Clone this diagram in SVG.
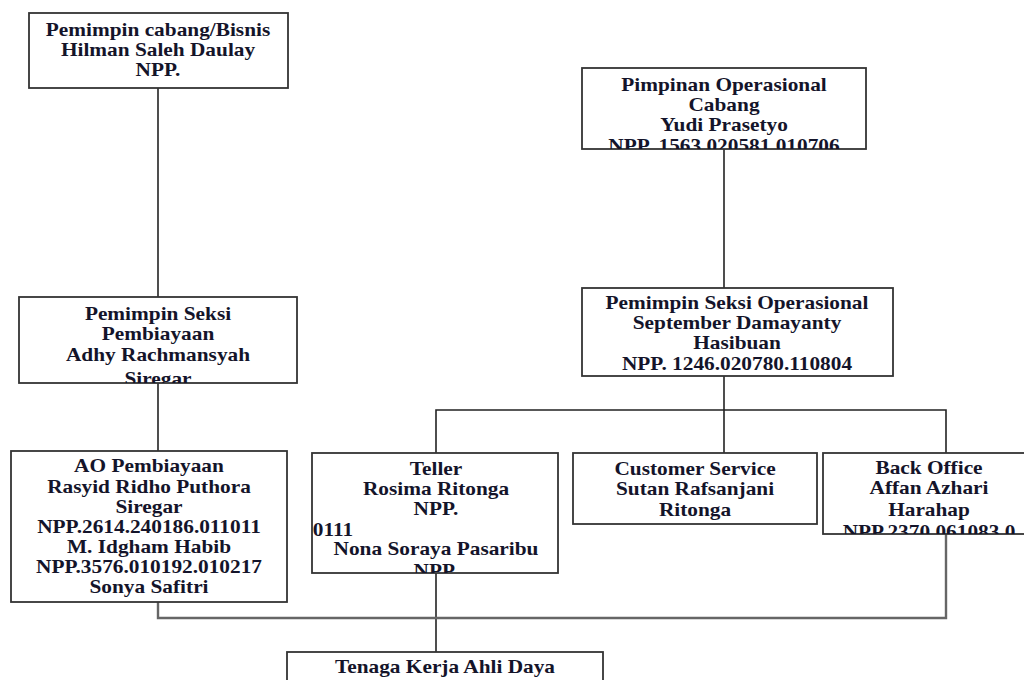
<svg xmlns="http://www.w3.org/2000/svg" width="1024" height="680" viewBox="0 0 1024 680">
<style>
.box{fill:#fff;stroke:#333;stroke-width:1.8}
.t{font-family:"Liberation Serif","Times New Roman",serif;font-weight:bold;font-size:18px;fill:#14142a;text-anchor:middle}
.l{text-anchor:start}
.c{fill:none;stroke:#222;stroke-width:1.6}
.g{fill:none;stroke:#666;stroke-width:2.4}
</style>
<defs>
<clipPath id="c1"><rect x="29" y="13" width="259" height="75"/></clipPath>
<clipPath id="c2"><rect x="582" y="68" width="284" height="81"/></clipPath>
<clipPath id="c3"><rect x="19" y="297" width="278" height="86"/></clipPath>
<clipPath id="c4"><rect x="582" y="288" width="311" height="88"/></clipPath>
<clipPath id="c5"><rect x="11" y="451" width="276" height="151"/></clipPath>
<clipPath id="c6"><rect x="312" y="453" width="246" height="120"/></clipPath>
<clipPath id="c7"><rect x="573" y="453" width="244" height="71"/></clipPath>
<clipPath id="c8"><rect x="823" y="453" width="210" height="81"/></clipPath>
<clipPath id="c9"><rect x="287" y="652" width="316" height="60"/></clipPath>
</defs>
<rect width="1024" height="680" fill="#fff"/>
<g id="connectors">
<path class="c" d="M158,88V297"/>
<path class="c" d="M158,383V451"/>
<path class="c" d="M724,149V288"/>
<path class="c" d="M724,376V453"/>
<path class="c" d="M436,453V410H946V453"/>
<path class="c" d="M436,573V652"/>
<path class="g" d="M158,602V618H946V534"/>
</g>
<g id="pemimpin-cabang">
<rect class="box" x="29" y="13" width="259" height="75"/>
<g clip-path="url(#c1)"><g transform="translate(158,0) scale(1.185,1)">
<text class="t" x="0" y="36">Pemimpin cabang/Bisnis</text>
<text class="t" x="0" y="56">Hilman Saleh Daulay</text>
<text class="t" x="0" y="76">NPP.</text>
</g></g>
</g>
<g id="pimpinan-operasional">
<rect class="box" x="582" y="68" width="284" height="81"/>
<g clip-path="url(#c2)"><g transform="translate(724,0) scale(1.185,1)">
<text class="t" x="0" y="91">Pimpinan Operasional</text>
<text class="t" x="0" y="111">Cabang</text>
<text class="t" x="0" y="131">Yudi Prasetyo</text>
<text class="t" x="0" y="152">NPP. 1563.020581.010706</text>
</g></g>
</g>
<g id="seksi-pembiayaan">
<rect class="box" x="19" y="297" width="278" height="86"/>
<g clip-path="url(#c3)"><g transform="translate(158,0) scale(1.185,1)">
<text class="t" x="0" y="320">Pemimpin Seksi</text>
<text class="t" x="0" y="340">Pembiayaan</text>
<text class="t" x="0" y="361">Adhy Rachmansyah</text>
<text class="t" x="0" y="385">Siregar</text>
</g></g>
</g>
<g id="seksi-operasional">
<rect class="box" x="582" y="288" width="311" height="88"/>
<g clip-path="url(#c4)"><g transform="translate(737,0) scale(1.185,1)">
<text class="t" x="0" y="309">Pemimpin Seksi Operasional</text>
<text class="t" x="0" y="329">September Damayanty</text>
<text class="t" x="0" y="349">Hasibuan</text>
<text class="t" x="0" y="370">NPP. 1246.020780.110804</text>
</g></g>
</g>
<g id="ao-pembiayaan">
<rect class="box" x="11" y="451" width="276" height="151"/>
<g clip-path="url(#c5)"><g transform="translate(149,0) scale(1.185,1)">
<text class="t" x="0" y="472">AO Pembiayaan</text>
<text class="t" x="0" y="493">Rasyid Ridho Puthora</text>
<text class="t" x="0" y="513">Siregar</text>
<text class="t" x="0" y="533">NPP.2614.240186.011011</text>
<text class="t" x="0" y="553">M. Idgham Habib</text>
<text class="t" x="0" y="573">NPP.3576.010192.010217</text>
<text class="t" x="0" y="593">Sonya Safitri</text>
</g></g>
</g>
<g id="teller">
<rect class="box" x="312" y="453" width="246" height="120"/>
<g clip-path="url(#c6)"><g transform="translate(436,0) scale(1.185,1)">
<text class="t" x="0" y="475">Teller</text>
<text class="t" x="0" y="495">Rosima Ritonga</text>
<text class="t" x="0" y="515">NPP.</text>
<text class="t l" x="-104" y="536">0111</text>
<text class="t" x="0" y="555">Nona Soraya Pasaribu</text>
<text class="t" x="0" y="577">NPP.</text>
</g></g>
</g>
<g id="customer-service">
<rect class="box" x="573" y="453" width="244" height="71"/>
<g clip-path="url(#c7)"><g transform="translate(695,0) scale(1.185,1)">
<text class="t" x="0" y="475">Customer Service</text>
<text class="t" x="0" y="495">Sutan Rafsanjani</text>
<text class="t" x="0" y="516">Ritonga</text>
</g></g>
</g>
<g id="back-office">
<rect class="box" x="823" y="453" width="210" height="81"/>
<g clip-path="url(#c8)"><g transform="translate(929,0) scale(1.185,1)">
<text class="t" x="0" y="474">Back Office</text>
<text class="t" x="0" y="494">Affan Azhari</text>
<text class="t" x="0" y="516">Harahap</text>
<text class="t" x="0" y="538">NPP.2370.061083.0</text>
</g></g>
</g>
<g id="tenaga-kerja">
<rect class="box" x="287" y="652" width="316" height="60"/>
<g clip-path="url(#c9)"><g transform="translate(445,0) scale(1.185,1)">
<text class="t" x="0" y="673">Tenaga Kerja Ahli Daya</text>
</g></g>
</g>
</svg>
